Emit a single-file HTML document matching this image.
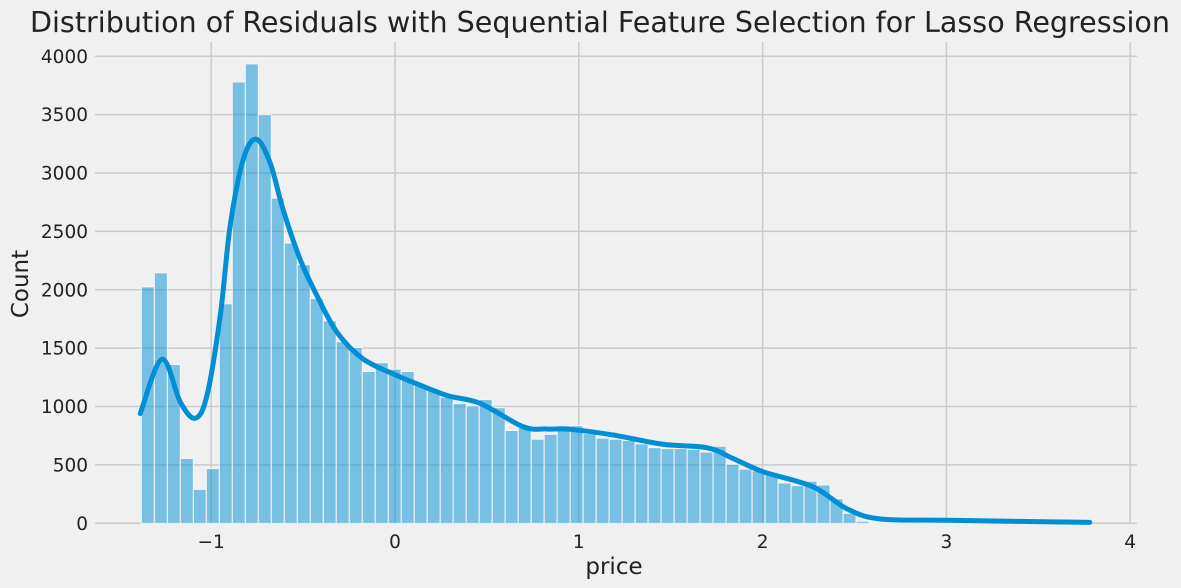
<!DOCTYPE html>
<html><head><meta charset="utf-8"><style>
body{margin:0;background:#f0f0f0;}
svg{display:block;font-family:"DejaVu Sans","Liberation Sans",sans-serif;}
</style></head><body>
<svg id="chart" width="1181" height="588" viewBox="0 0 1181 588">
<rect width="1181" height="588" fill="#f0f0f0"/>
<text x="600" y="32" text-anchor="middle" font-size="28.5" textLength="1140" lengthAdjust="spacingAndGlyphs" fill="#222">Distribution of Residuals with Sequential Feature Selection for Lasso Regression</text>
<g id="grid"></g><g id="bars"></g><g id="kde"></g><g id="ticks"></g>
<text x="614" y="574" text-anchor="middle" font-size="23" fill="#222">price</text>
<text transform="translate(28,284) rotate(-90)" text-anchor="middle" font-size="23" fill="#222">Count</text>
</svg>
<script>
const binStart = -1.38;
const binWidth = 0.0707;
const counts = [2025,2145,1360,555,290,468,1880,3780,3935,3500,2785,2400,2215,1925,1735,1555,1505,1300,1375,1320,1300,1180,1140,1080,1025,1005,1060,990,795,818,720,762,836,836,768,730,720,710,680,648,640,640,634,610,660,506,464,450,414,345,322,360,328,210,85,18,8,6,5,5,4,4,3,3,3,2,2,2,2,1,1,1,1];
const kdeX = [-1.386,-1.268,-1.168,-1.087,-1.023,-0.951,-0.897,-0.826,-0.755,-0.679,-0.609,-0.516,-0.424,-0.315,-0.174,0.011,0.098,0.283,0.462,0.696,0.826,0.951,1.185,1.457,1.696,1.837,2.0,2.272,2.457,2.636,3.0,3.4,3.78];
const kdeY = [940,1405,1038,900,1095,1775,2545,3115,3290,3085,2688,2260,1948,1635,1408,1265,1208,1095,1028,828,808,805,757,677,648,557,443,314,126,38,26,16,8];
const xTicks = [-1,0,1,2,3,4];
const xTickLabels = ["\u22121","0","1","2","3","4"];
const yTicks = [0,500,1000,1500,2000,2500,3000,3500,4000];
const ns = "http://www.w3.org/2000/svg";
const L=95,R=1137,T=42,B=523.3;
function sx(v){return 395+v*183.8;}
function sy(v){return B-v*(B-56.3)/4000;}
function mk(tag,attrs,parent){const e=document.createElementNS(ns,tag);for(const k in attrs)e.setAttribute(k,attrs[k]);parent.appendChild(e);return e;}
const grid=document.getElementById('grid'),bars=document.getElementById('bars'),kde=document.getElementById('kde'),ticks=document.getElementById('ticks');
yTicks.forEach(t=>{
  const g=mk('line',{x1:L,x2:R,y1:sy(t),y2:sy(t),stroke:'#cbcbcb','stroke-width':1.5},grid);
  
  
  const tx=mk('text',{x:88,y:sy(t)+6.5,'text-anchor':'end','font-size':18.5,fill:'#222'},ticks);
  tx.textContent=t;
  
  
});
xTicks.forEach((t,i)=>{
  const g=mk('line',{x1:sx(t),x2:sx(t),y1:T,y2:B,stroke:'#cbcbcb','stroke-width':1.5},grid);
  
  
  const tx=mk('text',{x:sx(t),y:548,'text-anchor':'middle','font-size':18.5,fill:'#222'},ticks);
  tx.textContent=xTickLabels[i];
  
  
});
counts.forEach((c,i)=>{
  const x0=sx(binStart+i*binWidth),x1=sx(binStart+(i+1)*binWidth);
  const r=mk('rect',{x:x0,y:sy(c),width:x1-x0,height:B-sy(c),fill:'rgba(0,143,213,0.5)',stroke:'#f5f5f5','stroke-width':1},bars);
  
  
});
const pts=kdeX.map((x,i)=>[sx(x),sy(kdeY[i])]);
let d='M'+pts[0][0]+','+pts[0][1];
for(let i=0;i<pts.length-1;i++){
  const p0=pts[Math.max(0,i-1)],p1=pts[i],p2=pts[i+1],p3=pts[Math.min(pts.length-1,i+2)];
  const c1=[p1[0]+(p2[0]-p0[0])/6,p1[1]+(p2[1]-p0[1])/6];
  const c2=[p2[0]-(p3[0]-p1[0])/6,p2[1]-(p3[1]-p1[1])/6];
  d+=' C'+c1[0]+','+c1[1]+' '+c2[0]+','+c2[1]+' '+p2[0]+','+p2[1];
}
const path=mk('path',{d:d,fill:'none',stroke:'#008fd5','stroke-width':5,'stroke-linecap':'round','stroke-linejoin':'round'},kde);


</script>
</body></html>
